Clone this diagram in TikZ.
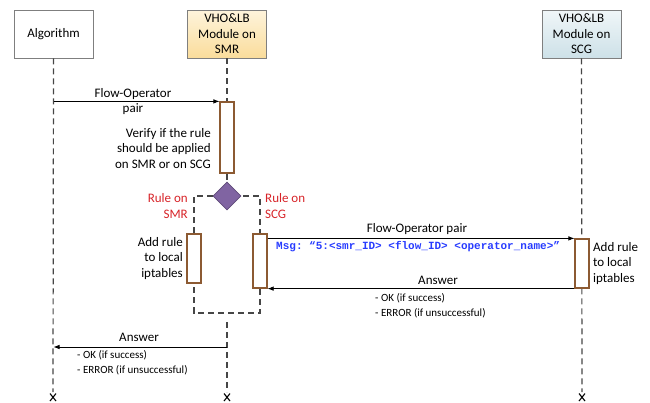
\documentclass[tikz,border=0pt]{standalone}
\usepackage{fontspec}
\setmainfont{Carlito}
\setmonofont{Liberation Mono}
\usetikzlibrary{arrows.meta,shapes.geometric}
\definecolor{actbrown}{RGB}{140,90,50}
\definecolor{smrtop}{RGB}{254,244,220}
\definecolor{smrbot}{RGB}{250,220,155}
\definecolor{scgtop}{RGB}{240,246,248}
\definecolor{scgbot}{RGB}{205,225,232}
\definecolor{rulered}{RGB}{215,35,40}
\definecolor{msgblue}{RGB}{40,60,255}
\definecolor{diapurple}{RGB}{128,100,162}
\definecolor{lifegray}{RGB}{70,70,70}
\definecolor{boxgray}{RGB}{127,127,127}
\begin{document}
\begin{tikzpicture}[x=1pt,y=-1pt,
  txt/.style={inner sep=0pt, font=\fontsize{13}{15.6}\selectfont},
  small/.style={inner sep=0pt, font=\fontsize{11}{14.5}\selectfont, align=left, anchor=west},
  actor/.style={draw=boxgray, line width=0.8pt, minimum width=79pt, minimum height=48pt,
     align=center, inner sep=0pt, font=\fontsize{13}{15.6}\selectfont},
  act/.style={draw=actbrown, fill=white, line width=1.2pt, minimum width=14pt, inner sep=0pt},
  life/.style={draw=lifegray, line width=1.2pt, dash pattern=on 6pt off 4pt},
  msg/.style={draw=black, line width=0.7pt, -{Latex[length=6pt,width=4.5pt]}},
  redlbl/.style={txt, text=rulered},
  endx/.style={draw=black, line width=1.1pt}
]
\useasboundingbox (0,0) rectangle (650,402);

% actors
\node[actor, fill=white] (alg) at (53.5,34) {Algorithm};
\node[actor, top color=smrtop, bottom color=smrbot] (smr) at (227,34) {VHO\&LB\\Module on\\SMR};
\node[actor, top color=scgtop, bottom color=scgbot] (scg) at (581.5,34) {VHO\&LB\\Module on\\SCG};

% coordinates
\coordinate (algend) at (53,392);
\coordinate (smrend) at (227,392);
\coordinate (scgend) at (582,392);
\coordinate (smrlow) at (227,322);
\coordinate (ans2) at (227,347);

% activations
\node[act, minimum height=71pt] (a1) at (227,137.5) {};
\node[diamond, aspect=1, fill=diapurple, draw=diapurple!75!black, line width=0.6pt,
      minimum width=28pt, minimum height=28pt, inner sep=0pt] (dec) at (227,196) {};
\coordinate (boxL) at (194,196);
\coordinate (boxR) at (260,196);
\coordinate (boxBL) at (194,313);
\coordinate (boxBR) at (260,313);

% lifelines
\draw[life] (alg.south) -- (algend);
\draw[life] (smr.south) -- (a1.north);
\draw[life] (a1.south) -- (dec.north);
\draw[life] (smrlow) -- (smrend);
\draw[life] (scg.south) -- (scgend);
\draw[life] (dec.west) -- (boxL) -- (boxBL) -- (boxBR) -- (boxR) -- (dec.east);

\node[act, minimum height=49pt] (a2) at (194,258.5) {};
\node[act, minimum height=54pt] (a3) at (260,261) {};
\node[act, minimum height=49pt] (a4) at (582,263.5) {};

% end crosses
\foreach \e in {algend,smrend,scgend}{
  \draw[endx] ([shift={(-3,1.5)}]\e) -- ([shift={(3,9)}]\e);
  \draw[endx] ([shift={(3,1.5)}]\e) -- ([shift={(-3,9)}]\e);
}

% messages
\draw[msg] (alg.south |- a1.north) -- (a1.north west);
\node[txt, align=center] (m1) at (133,101.5) {Flow-Operator\\pair};
\node[txt, align=right, anchor=east] (v1) at (211,148.5) {Verify if the rule\\should be applied\\on SMR or on SCG};
\node[redlbl, align=right, anchor=east] (rs) at (188,206) {Rule on\\SMR};
\node[redlbl, align=left, anchor=west] (rc) at (265,206) {Rule on\\SCG};
\node[txt, align=right, anchor=east] (ad1) at (183,258.5) {Add rule\\to local\\iptables};
\node[txt, align=left, anchor=west] (ad2) at (593,263.5) {Add rule\\to local\\iptables};

\draw[msg] (a3.east |- a4.north) -- (a4.north west);
\node[txt] (m2) at (417,229) {Flow-Operator pair};
\node[inner sep=0pt, anchor=west, text=msgblue, font=\fontsize{11}{13}\ttfamily\bfseries] (msgtxt) at (276,247)
  {Msg: “5:<smr\_ID> <flow\_ID> <operator\_name>”};

\draw[msg] (a4.south west) -- (a3.south east);
\node[txt] (m3) at (438,280) {Answer};
\node[small] (r1) at (375,305.5) {- OK (if success)\\- ERROR (if unsuccessful)};

\draw[msg] (ans2) -- (alg.south |- ans2);
\node[txt] (m4) at (139,337) {Answer};
\node[small] (r2) at (77,362.5) {- OK (if success)\\- ERROR (if unsuccessful)};
\end{tikzpicture}
\end{document}
